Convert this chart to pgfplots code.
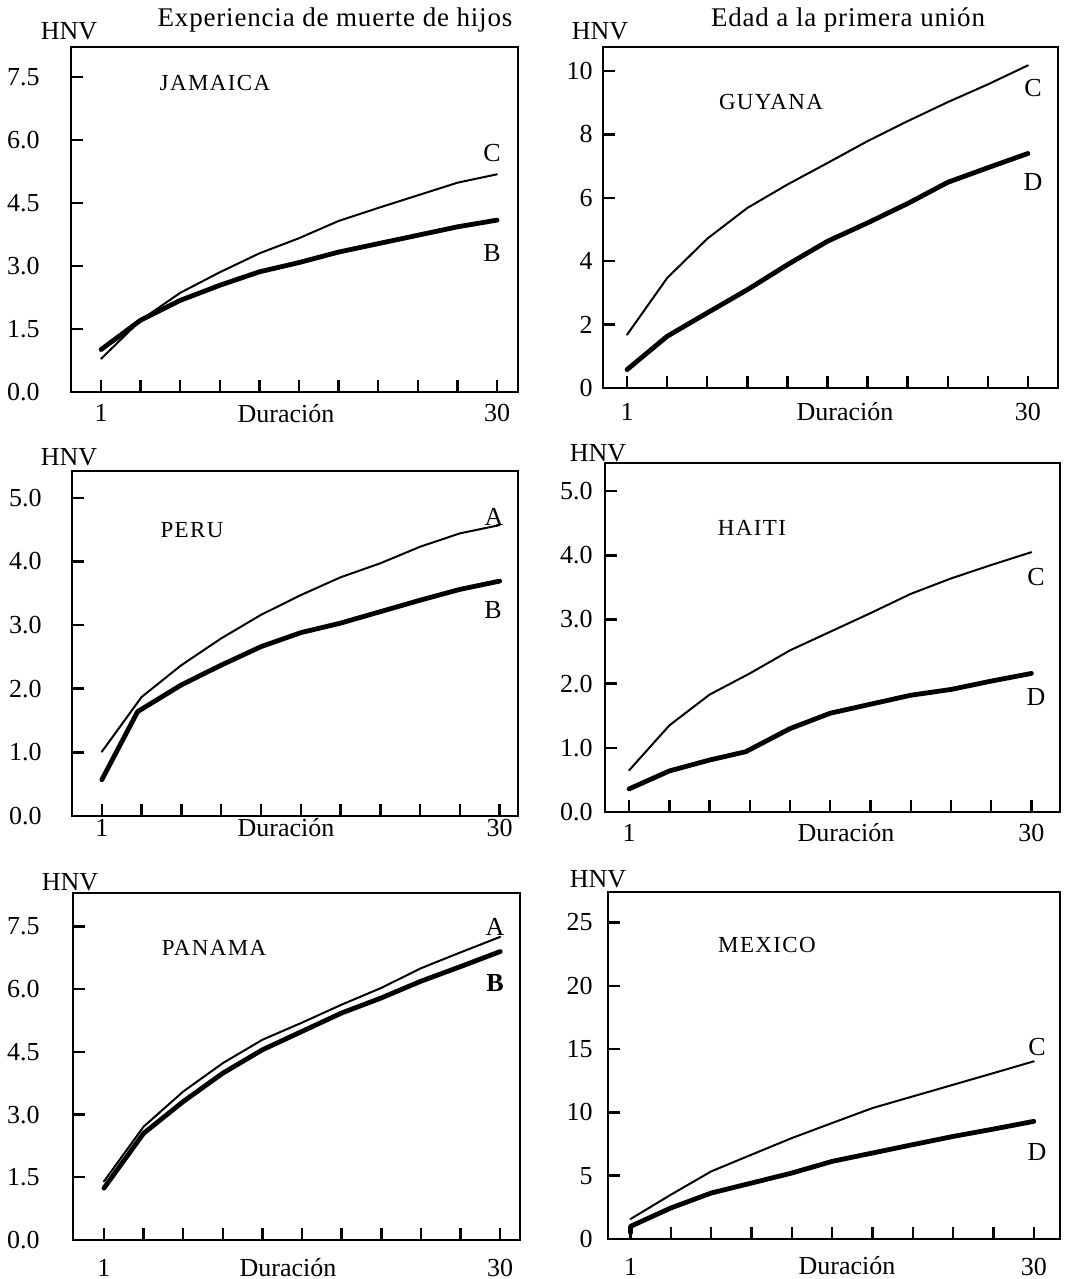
\documentclass[border=0pt]{standalone}
\usepackage{pgfplots}
\pgfplotsset{compat=1.18}
\usepackage{fontspec}
\setmainfont{Liberation Serif}
\newfontfamily\spaced[LetterSpace=6]{Liberation Serif}
\newfontfamily\titlefont[LetterSpace=3]{Liberation Serif}

\pgfplotsset{
  panel/.style={
    scale only axis, anchor=south west, clip=false,
    axis line style={line width=1pt},
    tick align=inside, tick pos=left,
    major tick length=6pt,
    every tick/.style={black, line width=1.2pt},
    xtick={0,...,10},
    xticklabels={1,,,,,,,,,,30},
    tick label style={font=\fontsize{13}{15}\selectfont},
    yticklabel style={anchor=east, inner sep=0pt},
    xticklabel style={anchor=base, inner sep=0pt},
  },
  thinl/.style={black, line width=1pt, line join=round, line cap=round},
  thickl/.style={black, line width=2.4pt, line join=round, line cap=round},
}
\newcommand{\lbl}{\fontsize{13}{15}\selectfont}
\newcommand{\ctry}{\spaced\fontsize{11.5}{13}\selectfont}

\begin{document}
\begin{tikzpicture}
\path[use as bounding box] (0,0) rectangle (532.5pt,639.5pt);

% ---------- JAMAICA ----------
\begin{axis}[panel, at={(35.5pt,443.5pt)}, width=223.5pt, height=172.5pt,
  xmin=-0.76, xmax=10.53, ymin=0, ymax=8.21,
  ytick={0,1.5,3,4.5,6,7.5}, yticklabels={0.0,1.5,3.0,4.5,6.0,7.5},
  yticklabel style={xshift=-15.5pt}, xticklabel style={yshift=-15pt}]
\addplot[thinl] coordinates {(0,0.79)(1,1.71)(2,2.36)(3,2.85)(4,3.30)(5,3.66)(6,4.07)(7,4.38)(8,4.68)(9,4.98)(10,5.18)};
\addplot[thickl] coordinates {(0,1.01)(1,1.71)(2,2.18)(3,2.54)(4,2.86)(5,3.08)(6,3.33)(7,3.53)(8,3.73)(9,3.93)(10,4.09)};
\end{axis}

% ---------- GUYANA ----------
\begin{axis}[panel, at={(301.5pt,445.5pt)}, width=227.5pt, height=170.5pt,
  xmin=-0.6, xmax=10.75, ymin=0, ymax=10.76,
  ytick={0,2,4,6,8,10}, yticklabels={0,2,4,6,8,10},
  yticklabel style={xshift=-5pt}, xticklabel style={yshift=-16.5pt}]
\addplot[thinl] coordinates {(0,1.68)(1,3.47)(2,4.71)(3,5.68)(4,6.42)(5,7.10)(6,7.79)(7,8.42)(8,9.02)(9,9.58)(10,10.18)};
\addplot[thickl] coordinates {(0,0.58)(1,1.63)(2,2.37)(3,3.10)(4,3.89)(5,4.63)(6,5.21)(7,5.82)(8,6.49)(9,6.95)(10,7.40)};
\end{axis}

% ---------- PERU ----------
\begin{axis}[panel, at={(36pt,231.5pt)}, width=223pt, height=172.5pt,
  xmin=-0.75, xmax=10.46, ymin=0, ymax=5.42,
  ytick={0,1,2,3,4,5}, yticklabels={0.0,1.0,2.0,3.0,4.0,5.0},
  yticklabel style={xshift=-15pt}, xticklabel style={yshift=-10.5pt}]
\addplot[thinl] coordinates {(0,1.01)(1,1.87)(2,2.37)(3,2.79)(4,3.16)(5,3.47)(6,3.75)(7,3.97)(8,4.23)(9,4.44)(10,4.57)};
\addplot[thickl] coordinates {(0,0.57)(0.9,1.64)(2,2.06)(3,2.37)(4,2.66)(5,2.88)(6,3.03)(7,3.21)(8,3.39)(9,3.56)(10,3.69)};
\end{axis}

% ---------- HAITI ----------
\begin{axis}[panel, at={(302.5pt,233.5pt)}, width=227.5pt, height=174.5pt,
  xmin=-0.6, xmax=10.71, ymin=0, ymax=5.44,
  ytick={0,1,2,3,4,5}, yticklabels={0.0,1.0,2.0,3.0,4.0,5.0},
  yticklabel style={xshift=-6pt}, xticklabel style={yshift=-15pt}]
\addplot[thinl] coordinates {(0,0.65)(1,1.35)(2,1.83)(3,2.16)(4,2.52)(5,2.81)(6,3.10)(7,3.40)(8,3.64)(9,3.85)(10,4.05)};
\addplot[thickl] coordinates {(0,0.36)(1,0.64)(2,0.81)(2.9,0.94)(4,1.30)(5,1.54)(6,1.68)(7,1.82)(8,1.91)(9,2.04)(10,2.16)};
\end{axis}

% ---------- PANAMA ----------
\begin{axis}[panel, at={(36.5pt,19.5pt)}, width=223.5pt, height=173.5pt,
  xmin=-0.78, xmax=10.5, ymin=0, ymax=8.30,
  ytick={0,1.5,3,4.5,6,7.5}, yticklabels={0.0,1.5,3.0,4.5,6.0,7.5},
  yticklabel style={xshift=-16.5pt}, xticklabel style={yshift=-18pt}]
\addplot[thinl] coordinates {(0,1.40)(1,2.71)(2,3.55)(3,4.23)(4,4.79)(5,5.20)(6,5.63)(7,6.03)(8,6.50)(9,6.88)(10,7.25)};
\addplot[thickl] coordinates {(0,1.24)(1,2.55)(2,3.31)(3,3.99)(4,4.55)(5,4.99)(6,5.43)(7,5.79)(8,6.19)(9,6.54)(10,6.90)};
\end{axis}

% ---------- MEXICO ----------
\begin{axis}[panel, at={(304pt,20pt)}, width=226pt, height=173.5pt,
  xmin=-0.56, xmax=10.65, ymin=0, ymax=27.4,
  ytick={0,5,10,15,20,25}, yticklabels={0,5,10,15,20,25},
  yticklabel style={xshift=-7.5pt}, xticklabel style={yshift=-18pt}]
\addplot[thinl] coordinates {(0,1.58)(1,3.50)(2,5.34)(3,6.66)(4,7.97)(5,9.16)(6,10.34)(7,11.26)(8,12.18)(9,13.10)(10,14.03)};
\addplot[thickl] coordinates {(0,0.5)(0,1.0)(1,2.45)(2,3.63)(3,4.42)(4,5.21)(5,6.13)(6,6.79)(7,7.45)(8,8.10)(9,8.68)(10,9.29)};
\end{axis}

% ---------- texts (pixel coords: x*0.5pt, (1279-y)*0.5pt) ----------
\newcommand{\T}[4][center]{\node[anchor=#1, inner sep=0pt] at ({#2*0.5pt},{(1279-#3)*0.5pt}) {#4};}
% column titles
\T{335}{20}{\titlefont\fontsize{13.5}{15}\selectfont Experiencia de muerte de hijos}
\T{848}{20}{\titlefont\fontsize{13.5}{15}\selectfont Edad a la primera unión}
% HNV
\T{69}{31}{\lbl HNV}
\T{600}{31}{\lbl HNV}
\T{69}{457}{\lbl HNV}
\T{598}{453}{\lbl HNV}
\T{70}{882}{\lbl HNV}
\T{598}{879}{\lbl HNV}
% countries
\T{215}{83}{\ctry JAMAICA}
\T{771}{102}{\ctry GUYANA}
\T{192}{530}{\ctry PERU}
\T{752}{528}{\ctry HAITI}
\T{214}{948}{\ctry PANAMA}
\T{767}{945}{\ctry MEXICO}
% curve letters
\T{492}{153}{\lbl C}
\T{492}{253}{\lbl B}
\T{1033}{88}{\lbl C}
\T{1033}{182}{\lbl D}
\T{494}{517}{\lbl A}
\T{493}{610}{\lbl B}
\T{1036}{577}{\lbl C}
\T{1036}{697}{\lbl D}
\T{495}{927}{\lbl A}
\T{495}{983}{\lbl\bfseries B}
\T{1037}{1047}{\lbl C}
\T{1037}{1152}{\lbl D}
% Duración
\T[base]{286}{423}{\lbl Duración}
\T[base]{845}{421}{\lbl Duración}
\T[base]{286}{837}{\lbl Duración}
\T[base]{846}{842}{\lbl Duración}
\T[base]{288}{1276}{\lbl Duración}
\T[base]{847}{1275}{\lbl Duración}
\end{tikzpicture}
\end{document}
